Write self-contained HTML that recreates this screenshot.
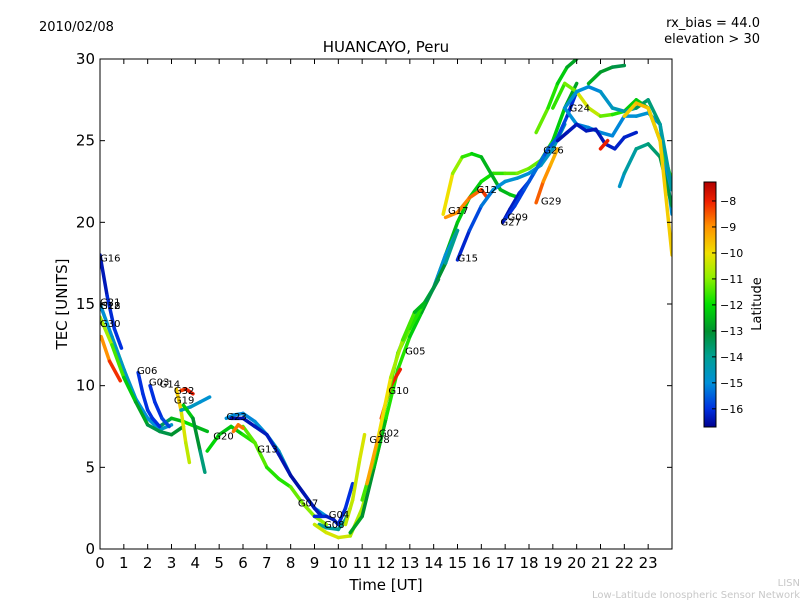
<!DOCTYPE html>
<html><head><meta charset="utf-8"><style>
body{margin:0;background:#fff;}
svg text{font-family:"DejaVu Sans","Liberation Sans",sans-serif;}
</style></head><body>
<svg id="chart" width="800" height="600" xmlns="http://www.w3.org/2000/svg">
<defs>
<linearGradient id="cbg" x1="0" y1="1" x2="0" y2="0">
<stop offset="0" stop-color="#00008f"/>
<stop offset="0.074" stop-color="#0030e0"/>
<stop offset="0.18" stop-color="#0090d8"/>
<stop offset="0.29" stop-color="#00a090"/>
<stop offset="0.39" stop-color="#009030"/>
<stop offset="0.50" stop-color="#00e000"/>
<stop offset="0.61" stop-color="#90f000"/>
<stop offset="0.71" stop-color="#f0e000"/>
<stop offset="0.82" stop-color="#ff9000"/>
<stop offset="0.92" stop-color="#f02000"/>
<stop offset="1" stop-color="#b00000"/>
</linearGradient>
</defs>
<text x="39" y="31" font-size="13">2010/02/08</text>
<text x="760" y="27" font-size="13" text-anchor="end">rx_bias = 44.0</text>
<text x="760" y="43" font-size="13" text-anchor="end">elevation &gt; 30</text>
<text x="386" y="52" font-size="15" text-anchor="middle">HUANCAYO, Peru</text>
<g id="plot"></g>
<g id="axes"></g>
<rect x="100" y="59" width="572" height="490" fill="none" stroke="#000" stroke-width="1"/>
<text x="386" y="590" font-size="15" text-anchor="middle">Time [UT]</text>
<text transform="translate(67,304) rotate(-90)" font-size="15" text-anchor="middle">TEC [UNITS]</text>
<rect x="704" y="182" width="12" height="245" fill="url(#cbg)" stroke="#000" stroke-width="1"/>
<g id="cbticks"></g>
<text transform="translate(761,304) rotate(-90)" font-size="13" text-anchor="middle">Latitude</text>
<text x="800" y="586" font-size="10" fill="#c8c8c8" text-anchor="end">LISN</text>
<text x="800" y="598" font-size="10" fill="#c8c8c8" text-anchor="end">Low-Latitude Ionospheric Sensor Network</text>
</svg>
<script>
const xTicks=[0,1,2,3,4,5,6,7,8,9,10,11,12,13,14,15,16,17,18,19,20,21,22,23];
const yTicks=[0,5,10,15,20,25,30];
const cbTicks=[-8,-9,-10,-11,-12,-13,-14,-15,-16];
const passNames=["G16","G21","G22","G18","G30","G06","G03","G14","G32","G19","G19b","G20","G23","G13","G07","Gx1","G04","G08","G02","G28","Gmain","G05","G10","G17","G12","G15","G27","G09","G29","G26","G24","Gup","Gblue","Gteal","Gtop","Gtealb","Gend","Gred","Grise2","Grise3"];
const passTimes=[
[0,0.3,0.6,0.9],
[0,0.5,1,1.5,2,2.5,3,3.5,4,4.5],
[0.05,0.4,0.85],
[0,0.5,1,1.5,2,2.5,3],
[0,0.5,1,1.5,2,2.5,3,3.5],
[1.6,1.8,2,2.2,2.5],
[2.1,2.3,2.6,2.9],
[3.2,3.4,3.6,3.75],
[3.4,3.6,3.9],
[3.4,3.8,4.2,4.6],
[3.5,3.9,4.2,4.4],
[4.5,5,5.5,6,6.5],
[5.3,5.6,6,6.5,7,7.5,8,8.5,9,9.5],
[5.5,6,6.5,7,7.5,8,8.5,9,9.3],
[6,6.5,7,7.5,8,8.5,9,9.5],
[5.6,5.8,6.0],
[9,9.5,9.8,10,10.3,10.6],
[9.2,9.5,10,10.3,10.5],
[9,9.5,10,10.5,11,11.5,12],
[10.3,10.6,10.9,11.1],
[10.5,11,11.5,12,12.5,13,13.5,14,14.5,15,15.5,16,16.5,17,17.5,18,18.5,19,19.5,20],
[12.5,13,13.5,14,14.5,15],
[11.8,12.2,12.6],
[14.4,14.8,15.2,15.6,16,16.4,16.8,17.2,17.6],
[14.5,15,15.5,16,16.2],
[15,15.5,16,16.5,17,17.5,18,18.5,19,19.5],
[16.9,17.2,17.6,18,18.4,18.8,19.2,19.6,20],
[17,17.4,17.8,18.2,18.6],
[18.3,18.6,18.9,19.2],
[18.3,18.8,19.2,19.6,20],
[19.5,20,20.5,21,21.5,22,22.5,23,23.5,24],
[19,19.5,20,20.5,21,21.5,22,22.5,23,23.5,24],
[19.2,19.6,20,20.4,20.8,21.2,21.6,22,22.5],
[19.5,20,20.5,21,21.5,22,22.5,23,23.5,24],
[20.5,21,21.5,22],
[21.8,22,22.5,23,23.5,24],
[22,22.5,23,23.5,24],
[21,21.3],
[11,11.5,12,12.5,13,13.5,14,14.5,15],
[11.2,11.7,12.2,12.7,13.2,13.7,14.2]
];
const passTec=[
[18,15.5,13.5,12.3],
[15,13,11,9,8,7.5,8,7.8,7.5,7.2],
[13,11.5,10.3],
[15,13,11,9.2,8,7.3,7.6],
[14.2,12.5,10.5,9,7.6,7.2,7,7.5],
[10.8,9.5,8.5,8,7.5],
[10,9,8,7.5],
[9.8,8.5,6.5,5.3],
[9.7,9.8,9.5],
[8.5,8.7,9,9.3],
[8.8,8,6,4.7],
[6,7,7.5,7,6.5],
[8,8.2,8.3,7.8,7,6,4.5,3.5,2.5,2],
[8,8,7.5,7,5.8,4.5,3.5,2.5,2],
[7.5,6.5,5,4.3,3.8,2.8,2,1.5],
[7.2,7.6,7.4],
[2,2,1.8,1.5,2.5,4],
[1.5,1.3,1.2,1.8,2.5],
[1.5,1,0.7,0.8,2.5,5,8],
[1.5,3,5.5,7],
[1,2,5,8,11,13,14.5,16,18,20,21.5,22.5,23,23,23,23.3,23.8,25,27,28.5],
[12,13.8,14.8,16,18,19.5],
[8,10,11],
[20.5,23,24,24.2,24,23,22,21.7,21.5],
[20.3,20.6,21.5,22,21.6],
[17.7,19.5,21,22,22.5,22.7,23,23.5,24.5,26],
[20,20.8,21.8,22.5,23.5,24.5,25.2,26.5,28],
[20.2,21,22,23,24],
[21.2,22.5,23.5,24.5],
[25.5,27,28.5,29.5,30],
[27,26,25.8,25.5,25.3,26.5,26.5,26.7,26,20.5],
[27,28.5,28,27,26.5,26.6,26.8,27.5,27,25,22.5],
[25,25.5,26,25.6,25.7,24.8,24.5,25.2,25.5],
[27,28,28.3,28,27,26.8,27,27.5,26,22],
[28.5,29.2,29.5,29.6],
[22.2,23,24.5,24.8,24,21],
[26.5,27.3,27,25,18],
[24.5,25],
[3,5.5,9,12,13.5,14.8,16,17.5,19.5],
[4,7,10.5,12.8,14.5,15.2,16.5]
];
const passLat=[
[-16.5,-16.2,-16,-16],
[-10,-11,-12,-13,-13.5,-14,-13,-12,-12,-13],
[-9.5,-8.5,-7.8],
[-15,-15,-14.5,-15,-15,-15,-14.5],
[-10.5,-11,-12,-12.5,-13,-13.5,-13,-13],
[-16,-16,-16,-16,-16],
[-16,-16,-16,-15.5],
[-9.5,-10,-10.5,-10.5],
[-8.5,-8,-7.8],
[-14.5,-14.5,-14.8,-15],
[-12,-12.5,-13.5,-14],
[-12,-12.2,-12.5,-12,-11.5],
[-15,-15,-15.2,-15,-15,-14.8,-14.5,-14.5,-15,-15],
[-16.5,-16.5,-16.3,-16.3,-16.3,-16.5,-16.5,-16.3,-16.3],
[-11.5,-11.2,-11.5,-12,-11.5,-11,-11,-10.8],
[-9,-8.5,-9],
[-16,-16.2,-16.3,-16.3,-16,-16],
[-14,-14.2,-14,-14,-14],
[-10.5,-10.3,-10.2,-10.5,-10.8,-10.5,-10.2],
[-10.5,-10.5,-10.3,-10.2],
[-12.5,-13,-13,-12,-11.5,-12,-12.5,-13,-13,-12,-12.5,-12,-11.8,-11.5,-11.2,-11,-11.5,-12,-12.5,-13],
[-15,-15,-15.2,-15,-15,-15],
[-8.5,-8.2,-7.8],
[-9.5,-10.5,-11.3,-12,-12.3,-12.8,-12.5,-12.5,-12.2],
[-9,-9,-8.8,-8.5,-8],
[-16.3,-16,-15.5,-15,-15,-14.8,-15,-15,-14.5,-14.5],
[-16.5,-16.4,-16.2,-16,-15.8,-15.5,-15.5,-16,-16.2],
[-16,-16,-15.8,-15.5,-15.2],
[-8.3,-8.8,-9.2,-9.5],
[-11,-11.5,-12,-12.5,-13],
[-15,-15,-15.3,-15,-15.2,-15,-15,-14.8,-15,-15],
[-11.5,-11.8,-10.5,-10,-11,-11.5,-12,-12.5,-12,-11.5,-11.5],
[-16.5,-16.4,-16.3,-16.3,-16.4,-16.3,-16.2,-16.2,-16.2],
[-15,-14.8,-15.2,-15,-14.5,-14.5,-13.5,-13.5,-14,-14.5],
[-12.5,-12.8,-13,-13.5],
[-15,-14.5,-14,-13.8,-13.5,-13],
[-10,-9.5,-9.5,-10,-9.5],
[-8,-8],
[-11.5,-11.5,-11.8,-11,-11.5,-12,-12.5,-13.5,-14.5],
[-9,-9.5,-10.5,-11,-12,-13,-13.5]
];
const labelNames=["G16","G21","G22","G18","G30","G06","G03","G14","G32","G19","G23","G20","G13","G07","G04","G08","G02","G28","G10","G05","G15","G17","G12","G27","G09","G29","G26","G24"];
const labelT=[0,0,0,0,0,1.55,2.05,2.5,3.1,3.1,5.3,4.75,6.6,8.3,9.6,9.4,11.7,11.3,12.1,12.8,15,14.6,15.8,16.8,17.1,18.5,18.6,19.7];
const labelV=[17.6,14.9,14.7,14.7,13.6,10.7,10,9.9,9.5,8.9,7.9,6.7,5.9,2.6,1.9,1.3,6.9,6.5,9.5,11.9,17.6,20.5,21.8,19.8,20.1,21.1,24.2,26.8];

const X0=100,X1=672,Y0=549,Y1=59,VMAX=30,TMAX=24;
function xs(t){return X0+t*(X1-X0)/TMAX;}
function ys(v){return Y0-v*(Y0-Y1)/VMAX;}
const LMIN=-16.7,LMAX=-7.27;
const stops=[[0,[0,0,143]],[0.074,[0,48,224]],[0.18,[0,144,216]],[0.29,[0,160,144]],[0.39,[0,144,48]],[0.5,[0,224,0]],[0.61,[144,240,0]],[0.71,[240,224,0]],[0.82,[255,144,0]],[0.92,[240,32,0]],[1,[176,0,0]]];
function cmap(l){let f=(l-LMIN)/(LMAX-LMIN);f=Math.max(0,Math.min(1,f));
for(let i=1;i<stops.length;i++){if(f<=stops[i][0]){const a=stops[i-1],b=stops[i];const u=(f-a[0])/(b[0]-a[0]);
const c=a[1].map((v,k)=>Math.round(v+(b[1][k]-v)*u));return `rgb(${c[0]},${c[1]},${c[2]})`;}}return "rgb(176,0,0)";}
const NS="http://www.w3.org/2000/svg";
const plot=document.getElementById('plot');
const clip=document.createElementNS(NS,'clipPath');clip.setAttribute('id','pc');
const cr=document.createElementNS(NS,'rect');cr.setAttribute('x',X0);cr.setAttribute('y',Y1);cr.setAttribute('width',X1-X0);cr.setAttribute('height',Y0-Y1);
clip.appendChild(cr);document.querySelector('defs').appendChild(clip);
plot.setAttribute('clip-path','url(#pc)');
passNames.forEach((n,i)=>{
  const g=document.createElementNS(NS,'g');
  
  
  const T=passTimes[i],V=passTec[i],L=passLat[i];
  for(let j=0;j<T.length-1;j++){
    const ln=document.createElementNS(NS,'line');
    ln.setAttribute('x1',xs(T[j]));ln.setAttribute('y1',ys(V[j]));
    ln.setAttribute('x2',xs(T[j+1]));ln.setAttribute('y2',ys(V[j+1]));
    ln.setAttribute('stroke',cmap((L[j]+L[j+1])/2));
    ln.setAttribute('stroke-width','3.5');ln.setAttribute('stroke-linecap','round');
    
    
    g.appendChild(ln);
  }
  plot.appendChild(g);
});
labelNames.forEach((n,i)=>{
  const t=document.createElementNS(NS,'text');
  t.setAttribute('x',xs(labelT[i]));t.setAttribute('y',ys(labelV[i]));
  t.setAttribute('font-size','10');t.textContent=n;
  
  
  plot.appendChild(t);
});
const axes=document.getElementById('axes');
function add(parent,tag,attrs,txt){const e=document.createElementNS(NS,tag);for(const k in attrs)e.setAttribute(k,attrs[k]);if(txt!==undefined)e.textContent=txt;parent.appendChild(e);return e;}
xTicks.forEach(t=>{
  const x=xs(t);
  const a=add(axes,'line',{x1:x,y1:Y0,x2:x,y2:Y0-5,stroke:'#000'});
  
  
  const b=add(axes,'line',{x1:x,y1:Y1,x2:x,y2:Y1+5,stroke:'#000'});
  
  
  const l=add(axes,'text',{x:x,y:568,'font-size':15,'text-anchor':'middle'},String(t));
  
  
});
yTicks.forEach(v=>{
  const y=ys(v);
  const a=add(axes,'line',{x1:X0,y1:y,x2:X0+5,y2:y,stroke:'#000'});
  
  
  const b=add(axes,'line',{x1:X1,y1:y,x2:X1-5,y2:y,stroke:'#000'});
  
  
  const l=add(axes,'text',{x:95,y:y+5,'font-size':15,'text-anchor':'end'},String(v));
  
  
});
const cbt=document.getElementById('cbticks');
cbTicks.forEach(v=>{
  const y=182+(LMAX-v)/(LMAX-LMIN)*245;
  const a=add(cbt,'line',{x1:712,y1:y,x2:716,y2:y,stroke:'#000'});
  
  
  const l=add(cbt,'text',{x:720,y:y+4,'font-size':11},'\u2212'+Math.abs(v));
  
  
});
</script>
</body></html>
